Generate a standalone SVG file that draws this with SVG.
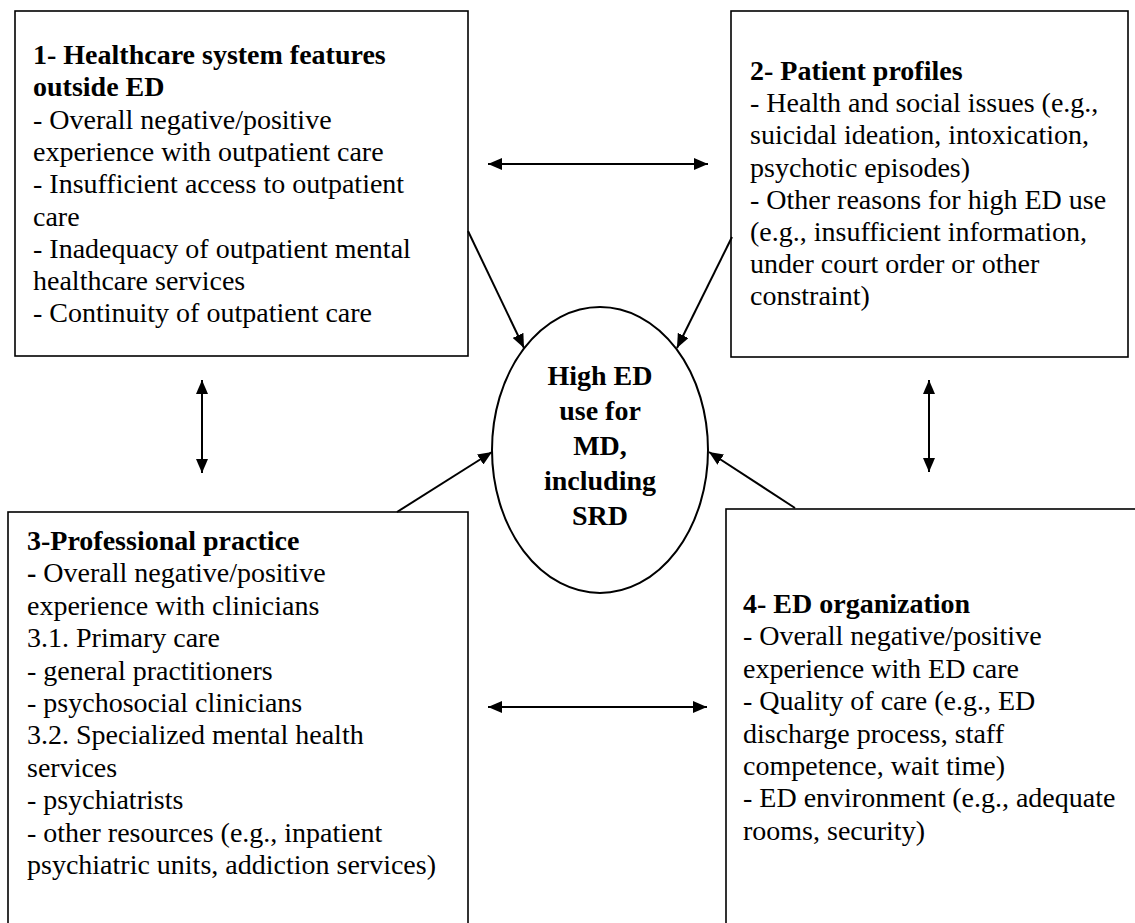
<svg xmlns="http://www.w3.org/2000/svg" width="1135" height="923" viewBox="0 0 1135 923">
<style>
.box{fill:#fff;stroke:#000;stroke-width:1.6}
.t{font-size:28px;fill:#000}
.b{font-weight:bold}
.c{font-size:28px;font-weight:bold;text-anchor:middle;fill:#000}
.ln{stroke:#000;stroke-width:2;fill:none}
</style>
<defs>
<marker id="ah" viewBox="0 0 14 12" refX="14" refY="6" markerWidth="14" markerHeight="12" markerUnits="userSpaceOnUse" orient="auto-start-reverse">
<path d="M0,0 L14,6 L0,12 Z" fill="#000"/>
</marker>
</defs>
<rect width="1135" height="923" fill="#fff"/>
<g id="node1">
<rect class="box" x="15" y="11" width="453" height="345"/>
<text class="t" x="33" y="64" style="font-family:'Liberation Serif','Times New Roman',serif"><tspan class="b">1- Healthcare system features</tspan><tspan class="b" x="33" y="96.3">outside ED</tspan><tspan x="33" y="128.6">- Overall negative/positive</tspan><tspan x="33" y="160.9">experience with outpatient care</tspan><tspan x="33" y="193.2">- Insufficient access to outpatient</tspan><tspan x="33" y="225.5">care</tspan><tspan x="33" y="257.8">- Inadequacy of outpatient mental</tspan><tspan x="33" y="290.1">healthcare services</tspan><tspan x="33" y="322.4">- Continuity of outpatient care</tspan></text>
</g>
<g id="node2">
<rect class="box" x="731" y="11" width="397" height="346"/>
<text class="t" x="750" y="80" style="font-family:'Liberation Serif','Times New Roman',serif"><tspan class="b">2- Patient profiles</tspan><tspan x="750" y="112.2">- Health and social issues (e.g.,</tspan><tspan x="750" y="144.4">suicidal ideation, intoxication,</tspan><tspan x="750" y="176.6">psychotic episodes)</tspan><tspan x="750" y="208.8">- Other reasons for high ED use</tspan><tspan x="750" y="241">(e.g., insufficient information,</tspan><tspan x="750" y="273.2">under court order or other</tspan><tspan x="750" y="305.4">constraint)</tspan></text>
</g>
<g id="node3">
<rect class="box" x="8" y="512" width="460" height="420"/>
<text class="t" x="27" y="550" style="font-family:'Liberation Serif','Times New Roman',serif"><tspan class="b">3-Professional practice</tspan><tspan x="27" y="582.4"><tspan class="b">-</tspan> Overall negative/positive</tspan><tspan x="27" y="614.8">experience with clinicians</tspan><tspan x="27" y="647.2">3.1. Primary care</tspan><tspan x="27" y="679.6">- general practitioners</tspan><tspan x="27" y="712">- psychosocial clinicians</tspan><tspan x="27" y="744.4">3.2. Specialized mental health</tspan><tspan x="27" y="776.8">services</tspan><tspan x="27" y="809.2">- psychiatrists</tspan><tspan x="27" y="841.6">- other resources (e.g., inpatient</tspan><tspan x="27" y="874">psychiatric units, addiction services)</tspan></text>
</g>
<g id="node4">
<rect class="box" x="726" y="509" width="420" height="430"/>
<text class="t" x="743" y="613" style="font-family:'Liberation Serif','Times New Roman',serif"><tspan class="b">4- ED organization</tspan><tspan x="743" y="645.4">- Overall negative/positive</tspan><tspan x="743" y="677.8">experience with ED care</tspan><tspan x="743" y="710.2">- Quality of care (e.g., ED</tspan><tspan x="743" y="742.6">discharge process, staff</tspan><tspan x="743" y="775">competence, wait time)</tspan><tspan x="743" y="807.4">- ED environment (e.g., adequate</tspan><tspan x="743" y="839.8">rooms, security)</tspan></text>
</g>
<g id="center">
<ellipse cx="600" cy="450" rx="108" ry="143" fill="#fff" stroke="#000" stroke-width="2"/>
<text class="c" x="600" y="385" style="font-family:'Liberation Serif','Times New Roman',serif">High ED</text>
<text class="c" x="600" y="420" style="font-family:'Liberation Serif','Times New Roman',serif">use for</text>
<text class="c" x="600" y="455" style="font-family:'Liberation Serif','Times New Roman',serif">MD,</text>
<text class="c" x="600" y="490" style="font-family:'Liberation Serif','Times New Roman',serif">including</text>
<text class="c" x="600" y="525" style="font-family:'Liberation Serif','Times New Roman',serif">SRD</text>
</g>
<g id="connectors">
<line class="ln" x1="488" y1="164" x2="708" y2="164" marker-start="url(#ah)" marker-end="url(#ah)"/>
<line class="ln" x1="488" y1="707" x2="707" y2="707" marker-start="url(#ah)" marker-end="url(#ah)"/>
<line class="ln" x1="202" y1="380" x2="202" y2="473" marker-start="url(#ah)" marker-end="url(#ah)"/>
<line class="ln" x1="929" y1="380" x2="929" y2="472" marker-start="url(#ah)" marker-end="url(#ah)"/>
<line class="ln" x1="468" y1="231" x2="524" y2="348" marker-end="url(#ah)"/>
<line class="ln" x1="732" y1="237" x2="677" y2="348" marker-end="url(#ah)"/>
<line class="ln" x1="397" y1="512" x2="492" y2="452" marker-end="url(#ah)"/>
<line class="ln" x1="795" y1="508" x2="709" y2="452" marker-end="url(#ah)"/>
</g>
</svg>
